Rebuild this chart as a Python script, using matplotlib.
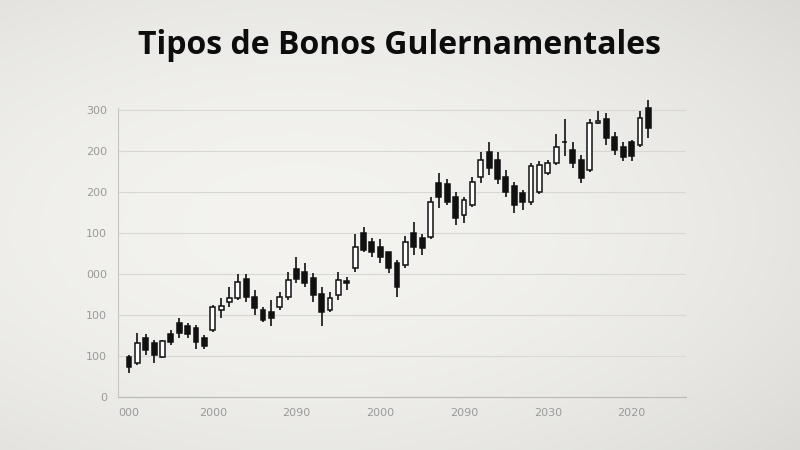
import numpy as np
import matplotlib.pyplot as plt

# Datos de las velas (apertura, máximo, mínimo, cierre)
apertura = [49, 41, 72, 66, 49, 77, 90, 87, 84, 72,
            82, 106, 116, 121, 144, 122, 106, 104, 110, 122,
            156, 152, 145, 126, 106, 124, 141, 157, 200, 189,
            183, 176, 163, 161, 200, 194, 195, 261, 259, 244,
            222, 234, 268, 298, 289, 268, 257, 249, 237, 250,
            273, 285, 311, 301, 289, 277, 334, 338, 317, 304,
            310, 307, 352]
maximo = [51, 78, 77, 70, 70, 82, 96, 90, 88, 76,
          112, 121, 134, 150, 150, 130, 110, 118, 128, 152,
          171, 163, 151, 134, 128, 152, 146, 198, 207, 194,
          192, 177, 167, 196, 213, 198, 244, 273, 265, 250,
          243, 268, 299, 310, 299, 277, 262, 252, 285, 287,
          289, 320, 338, 310, 295, 338, 348, 346, 323, 311,
          313, 348, 362]
minimo = [29, 39, 51, 41, 47, 63, 72, 72, 58, 58,
          79, 96, 110, 118, 116, 100, 91, 87, 106, 118,
          139, 134, 116, 87, 104, 118, 130, 152, 177, 171,
          163, 151, 122, 157, 173, 173, 192, 230, 234, 210,
          212, 232, 261, 271, 259, 244, 224, 228, 234, 247,
          271, 283, 293, 279, 261, 274, 333, 307, 295, 287,
          287, 304, 316]
cierre = [37, 66, 57, 51, 68, 67, 78, 77, 67, 62,
          110, 111, 121, 140, 122, 109, 94, 96, 122, 143,
          144, 139, 124, 104, 121, 143, 139, 183, 179, 176,
          171, 157, 134, 189, 183, 182, 237, 244, 238, 218,
          240, 262, 289, 279, 265, 250, 234, 238, 281, 283,
          285, 304, 310, 285, 267, 334, 336, 316, 301, 292,
          293, 340, 328]

etiquetas_x = ["000", "2000", "2090", "2000", "2090", "2030", "2020"]
etiquetas_y = ["0", "100", "100", "000", "100", "200", "200", "300"]

fig = plt.figure(figsize=(8, 4.5), dpi=100)

# Fondo con un degradado suave (más claro al centro-izquierda)
fondo_ax = fig.add_axes([0, 0, 1, 1], zorder=-1)
gx, gy = np.meshgrid(np.linspace(-1, 1, 400), np.linspace(-1, 1, 225))
dist = np.sqrt(((gx + 0.25) / 1.3) ** 2 + (gy / 1.2) ** 2)
brillo = 0.955 - 0.06 * np.clip(dist, 0, 1.4) ** 2
rgb = np.dstack([brillo, brillo * 0.997, brillo * 0.982])
fondo_ax.imshow(np.clip(rgb, 0, 1), aspect="auto", extent=[0, 1, 0, 1])
fondo_ax.axis("off")

ax = fig.add_axes([0.1475, 0.1178, 0.71, 0.6422])
ax.patch.set_alpha(0)

x = np.arange(len(apertura))
o = np.array(apertura)
c = np.array(cierre)
sube = c >= o

# Mechas
ax.vlines(x, minimo, maximo, color="#111111", lw=1.2, zorder=2, clip_on=False)

# Cuerpos
ax.bar(x, np.abs(c - o), bottom=np.minimum(o, c), width=0.58,
       color=np.where(sube, "white", "#111111"), edgecolor="#111111",
       linewidth=1.1, zorder=3, clip_on=False)

ax.set_xlim(-1.31, 66.5)
ax.set_ylim(0, 352)

ax.set_xticks(np.arange(0, 61, 10))
ax.set_xticklabels(etiquetas_x)
ax.set_yticks(np.arange(0, 351, 50))
ax.set_yticklabels(etiquetas_y)
ax.tick_params(length=0, labelsize=8, colors="#9a9a9a", pad=8)

ax.grid(axis="y", color="#d8d7d2", lw=0.8, zorder=0)
for lado in ["top", "right"]:
    ax.spines[lado].set_visible(False)
ax.spines["left"].set_color("#c8c7c2")
ax.spines["bottom"].set_color("#b9b8b3")

fig.text(0.5, 0.898, "Tipos de Bonos Gulernamentales", ha="center", va="center",
         fontsize=23, fontweight="bold", family="Open Sans", color="#0d0d0d")

fig.savefig("out.png", dpi=100)
